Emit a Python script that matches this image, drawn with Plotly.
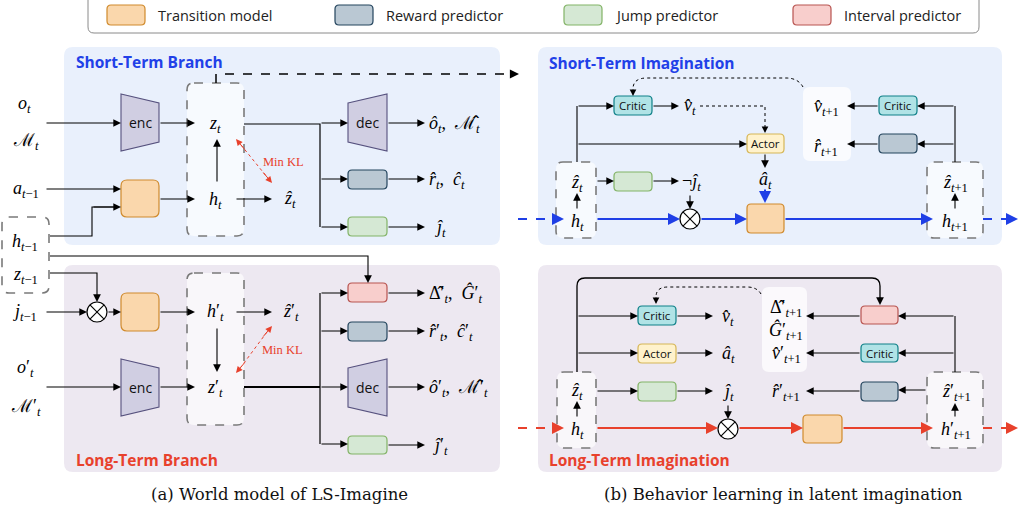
import math
import plotly.graph_objects as go

# ---------------- content (labels / text) ----------------
legend_labels = ["Transition model", "Reward predictor", "Jump predictor", "Interval predictor"]
legend_fills = ["#fad7ac", "#bac8d3", "#d5e8d4", "#f8cecc"]
legend_lines = ["#d08a2c", "#23445d", "#82b366", "#b85450"]

panel_titles = ["Short-Term Branch", "Long-Term Branch", "Short-Term Imagination", "Long-Term Imagination"]
captions = ["(a) World model of LS-Imagine", "(b) Behavior learning in latent imagination"]

left_top_inputs = ["<i>o</i><sub><i>t</i></sub>", "ℳ<sub><i>t</i></sub>", "<i>a</i><sub><i>t</i>−1</sub>"]
prev_state = ["<i>h</i><sub><i>t</i>−1</sub>", "<i>z</i><sub><i>t</i>−1</sub>"]
left_top_state = ["<i>z</i><sub><i>t</i></sub>", "<i>h</i><sub><i>t</i></sub>", "<i>ẑ</i><sub><i>t</i></sub>"]
left_top_outputs = ["<i>ô</i><sub><i>t</i></sub>,  ℳ\u0302<sub><i>t</i></sub>",
                    "<i>r\u0302</i><sub><i>t</i></sub>,  <i>ĉ</i><sub><i>t</i></sub>",
                    "<i>ĵ</i><sub><i>t</i></sub>"]
left_bot_inputs = ["<i>j</i><sub><i>t</i>−1</sub>", "<i>o</i>′<sub><i>t</i></sub>", "ℳ′<sub><i>t</i></sub>"]
left_bot_state = ["<i>h</i>′<sub><i>t</i></sub>", "<i>z</i>′<sub><i>t</i></sub>", "<i>ẑ</i>′<sub><i>t</i></sub>"]
left_bot_outputs = ["Δ\u0302′<sub><i>t</i></sub>,  <i>Ĝ</i>′<sub><i>t</i></sub>",
                    "<i>r\u0302</i>′<sub><i>t</i></sub>,  <i>ĉ</i>′<sub><i>t</i></sub>",
                    "<i>ô</i>′<sub><i>t</i></sub>,  ℳ\u0302′<sub><i>t</i></sub>",
                    "<i>ĵ</i>′<sub><i>t</i></sub>"]
rt_labels = ["<i>v\u0302</i><sub><i>t</i></sub>", "<i>â</i><sub><i>t</i></sub>", "¬<i>ĵ</i><sub><i>t</i></sub>",
             "<i>ẑ</i><sub><i>t</i></sub>", "<i>h</i><sub><i>t</i></sub>",
             "<i>ẑ</i><sub><i>t</i>+1</sub>", "<i>h</i><sub><i>t</i>+1</sub>",
             "<i>v\u0302</i><sub><i>t</i>+1</sub>", "<i>r\u0302</i><sub><i>t</i>+1</sub>"]
rb_labels = ["<i>v\u0302</i><sub><i>t</i></sub>", "<i>â</i><sub><i>t</i></sub>", "<i>ĵ</i><sub><i>t</i></sub>",
             "<i>ẑ</i><sub><i>t</i></sub>", "<i>h</i><sub><i>t</i></sub>",
             "<i>ẑ</i>′<sub><i>t</i>+1</sub>", "<i>h</i>′<sub><i>t</i>+1</sub>",
             "Δ\u0302′<sub><i>t</i>+1</sub>", "<i>Ĝ</i>′<sub><i>t</i>+1</sub>",
             "<i>v\u0302</i>′<sub><i>t</i>+1</sub>", "<i>r\u0302</i>′<sub><i>t</i>+1</sub>"]
module_names = ["enc", "dec", "Critic", "Actor", "Min KL"]

# ---------------- styles ----------------
BLUE_BG = "#e9f0fc"
PURP_BG = "#ede8f1"
BLUE = "#1f3fe6"
RED = "#e8412c"
TITLE_BLUE = "#2140e8"
TITLE_RED = "#e8412c"
MATH_FONT = "Liberation Serif"
CAP_FONT = "DejaVu Serif"
SANS = "Open Sans"
MS = 18
CRITIC = ("#b0e3e6", "#0e8088")
ACTOR = ("#fff2cc", "#d6b656")
ENC = ("#d0cee2", "#56517e")
ORANGE = (legend_fills[0], legend_lines[0])
REWARD = (legend_fills[1], legend_lines[1])
JUMP = (legend_fills[2], legend_lines[2])
INTERVAL = (legend_fills[3], legend_lines[3])

shapes = []
anns = []


def rrect(x0, y0, x1, y1, r, fill, line=None, lw=1.0, dash=None):
    p = (f"M{x0+r},{y0} L{x1-r},{y0} Q{x1},{y0} {x1},{y0+r} L{x1},{y1-r} Q{x1},{y1} {x1-r},{y1} "
         f"L{x0+r},{y1} Q{x0},{y1} {x0},{y1-r} L{x0},{y0+r} Q{x0},{y0} {x0+r},{y0} Z")
    ln = dict(color=line, width=lw) if line else dict(width=0)
    if dash and line:
        ln["dash"] = dash
    shapes.append(dict(type="path", path=p, fillcolor=fill, line=ln, xref="x", yref="y"))


def path(p, color="black", lw=1.1, dash=None):
    ln = dict(color=color, width=lw)
    if dash:
        ln["dash"] = dash
    shapes.append(dict(type="path", path=p, line=ln, xref="x", yref="y"))


def head(x0, y0, x1, y1, color="black", w=1.1, size=1.4):
    anns.append(dict(x=x1, y=y1, ax=x0, ay=y0, xref="x", yref="y", axref="x", ayref="y",
                     showarrow=True, arrowhead=2, arrowsize=size, arrowwidth=w,
                     arrowcolor=color, text=""))


def arrow(x0, y0, x1, y1, color="black", w=1.1, dash=None, size=1.4):
    if dash:
        L = math.hypot(x1 - x0, y1 - y0)
        ux, uy = (x1 - x0) / L, (y1 - y0) / L
        path(f"M{x0},{y0} L{x1-ux*5},{y1-uy*5}", color, w, dash)
        head(x1 - ux * 6, y1 - uy * 6, x1, y1, color, w, size)
    else:
        head(x0, y0, x1, y1, color, w, size)


def text(x, y, s, size=MS, color="black", font=MATH_FONT, xanchor="center"):
    anns.append(dict(x=x, y=y, text=s, showarrow=False, xref="x", yref="y", xanchor=xanchor,
                     yanchor="middle", borderpad=0, font=dict(family=font, size=size, color=color)))


def box(x0, y0, x1, y1, style, label=None, r=4, fs=11):
    rrect(x0, y0, x1, y1, r, style[0], style[1], 1.2)
    if label:
        text((x0 + x1) / 2, (y0 + y1) / 2, label, fs, "#111", SANS)


def trap(x0, x1, yl0, yl1, yr0, yr1, label):
    p = f"M{x0},{yl0} L{x1},{yr0} L{x1},{yr1} L{x0},{yl1} Z"
    shapes.append(dict(type="path", path=p, fillcolor=ENC[0], line=dict(color=ENC[1], width=1.1)))
    text((x0 + x1) / 2, (yl0 + yl1) / 2, label, 14, "#111", SANS)


def otimes(cx, cy, r=10):
    shapes.append(dict(type="circle", x0=cx - r, x1=cx + r, y0=cy - r, y1=cy + r,
                       fillcolor="white", line=dict(color="black", width=1.2)))
    d = r * 0.707
    path(f"M{cx-d},{cy-d} L{cx+d},{cy+d}", lw=1.1)
    path(f"M{cx-d},{cy+d} L{cx+d},{cy-d}", lw=1.1)


def dashed_box(x0, y0, x1, y1):
    rrect(x0, y0, x1, y1, 7, "rgba(255,255,255,0.65)", "#7a7a7a", 1.6, "dash")


# ---------------- legend ----------------
rrect(88, -12, 979, 33, 6, "white", "#8a8a8a", 1.0)
leg_x = [107, 335, 564, 793]
for i, lab in enumerate(legend_labels):
    rrect(leg_x[i], 5, leg_x[i] + 38, 25, 4, legend_fills[i], legend_lines[i], 1.2)
    text(leg_x[i] + 50, 15, lab, 14.5, "#222", SANS, "left")

# ---------------- panels ----------------
rrect(64, 47, 500, 245, 9, BLUE_BG)
rrect(64, 265, 500, 472, 9, PURP_BG)
rrect(538, 47, 1002, 245, 9, BLUE_BG)
rrect(538, 265, 1002, 472, 9, PURP_BG)
text(75, 62, f"<b>{panel_titles[0]}</b>", 15.5, TITLE_BLUE, SANS, "left")
text(75, 460, f"<b>{panel_titles[1]}</b>", 15.5, TITLE_RED, SANS, "left")
text(548, 63, f"<b>{panel_titles[2]}</b>", 15.5, TITLE_BLUE, SANS, "left")
text(548, 460, f"<b>{panel_titles[3]}</b>", 15.5, TITLE_RED, SANS, "left")

# ================= (a) short-term branch =================
dashed_box(187, 83, 244, 236)
dashed_box(2, 217, 49, 293)
path("M216,83 L216,74 L510,74", "black", 1.5, "dash")
head(510, 74, 519, 74, size=1.3, w=1.4)

text(24, 104, left_top_inputs[0])
text(26, 141, left_top_inputs[1])
text(26, 189, left_top_inputs[2])
text(25, 242, prev_state[0])
text(25, 275, prev_state[1])

arrow(45, 123, 121, 123)
trap(121, 159, 94, 151, 103, 142, module_names[0])
arrow(159, 123, 195, 123)
text(215, 124, left_top_state[0])
text(215, 200, left_top_state[1])
arrow(217, 183, 217, 139)
arrow(235, 199, 272, 199)
text(290, 199, left_top_state[2])
arrow(45, 189, 121, 189)
box(121, 180, 159, 217, ORANGE, r=6)
path("M50,236 L92,236 L92,207 L115,207")
arrow(92, 207, 121, 207)
arrow(159, 199, 195, 199)
# Min KL
path("M241,145 L267,177", RED, 1.0, "dot")
head(246, 151, 236, 139, RED, 1.0, 1.3)
head(262, 171, 272, 183, RED, 1.0, 1.3)
text(283, 162, module_names[4], 12.5, RED, MATH_FONT)

path("M244,124 L320,124 L320,227", "black", 1.2)
arrow(320, 123, 348, 123)
trap(348, 387, 103, 142, 94, 151, module_names[1])
arrow(387, 123, 425, 123)
text(428, 124, left_top_outputs[0], MS, xanchor="left")
arrow(320, 179, 348, 179)
box(348, 170, 387, 189, REWARD)
arrow(387, 179, 425, 179)
text(428, 180, left_top_outputs[1], MS, xanchor="left")
arrow(320, 227, 348, 227)
box(348, 217, 387, 236, JUMP)
arrow(387, 227, 425, 227)
text(440, 228, left_top_outputs[2], MS)

# ================= (a) long-term branch =================
path("M50,256 L368,256 L368,276")
head(368, 274, 368, 283)
dashed_box(187, 273, 244, 425)
path("M50,273 L97,273 L97,296")
head(97, 294, 97, 302)
text(25, 312, left_bot_inputs[0])
arrow(45, 312, 87, 312)
otimes(97, 312)
arrow(107, 312, 121, 312)
box(121, 293, 159, 331, ORANGE, r=6)
arrow(159, 312, 195, 312)
text(215, 312, left_bot_state[0])
arrow(217, 327, 217, 372)
text(215, 388, left_bot_state[1])
arrow(235, 312, 272, 312)
text(291, 312, left_bot_state[2])
path("M267,332 L241,367", RED, 1.0, "dot")
head(262, 338, 272, 326, RED, 1.0, 1.3)
head(246, 361, 236, 373, RED, 1.0, 1.3)
text(282, 350, module_names[4], 12.5, RED, MATH_FONT)

text(25, 368, left_bot_inputs[1])
text(26, 407, left_bot_inputs[2])
arrow(45, 387, 121, 387)
trap(121, 159, 359, 416, 368, 407, module_names[0])
arrow(159, 387, 195, 387)

path("M244,387 L320,387", "black", 2.0)
path("M320,293 L320,444", "black", 1.2)
arrow(320, 293, 348, 293)
box(348, 283, 387, 302, INTERVAL)
arrow(387, 293, 425, 293)
text(428, 294, left_bot_outputs[0], MS, xanchor="left")
arrow(320, 331, 348, 331)
box(348, 322, 387, 341, REWARD)
arrow(387, 331, 425, 331)
text(428, 332, left_bot_outputs[1], MS, xanchor="left")
arrow(320, 387, 348, 387)
trap(348, 387, 368, 407, 359, 416, module_names[1])
arrow(387, 387, 425, 387)
text(428, 388, left_bot_outputs[2], MS, xanchor="left")
arrow(320, 444, 348, 444)
box(348, 436, 387, 454, JUMP)
arrow(387, 445, 425, 445)
text(440, 446, left_bot_outputs[3], MS)

# ================= (b) short-term imagination =================
rrect(803, 87, 851, 161, 7, "rgba(255,255,255,0.75)")
dashed_box(556, 162, 596, 238)
dashed_box(927, 162, 983, 238)
path("M577,162 L577,106")
arrow(577, 106, 614, 106)
arrow(577, 144, 747, 144)
box(614, 96, 652, 115, CRITIC, module_names[2], fs=11.5)
arrow(652, 106, 679, 106)
text(690, 106, rt_labels[0])
path("M700,106 L765,106 L765,128", "black", 1.0, "dot")
head(765, 126, 765, 133, size=1.2)
box(747, 134, 784, 153, ACTOR, module_names[3], fs=11.5)
arrow(765, 153, 765, 168)
text(765, 180, rt_labels[1])
arrow(765, 188, 765, 203, BLUE, 2.0, size=1.2)
box(747, 204, 784, 233, ORANGE, r=4)
text(577, 183, rt_labels[3])
text(577, 222, rt_labels[4])
arrow(577, 210, 577, 193)
arrow(596, 181, 614, 181)
box(614, 172, 652, 191, JUMP)
arrow(652, 181, 679, 181)
text(691, 182, rt_labels[2])
arrow(690, 194, 690, 209)
otimes(690, 219)
arrow(518, 219, 564, 219, BLUE, 2.0, "dash", 1.2)
arrow(596, 219, 680, 219, BLUE, 2.0, size=1.2)
arrow(700, 219, 747, 219, BLUE, 2.0, size=1.2)
arrow(784, 219, 933, 219, BLUE, 2.0, size=1.2)
arrow(983, 219, 1018, 219, BLUE, 2.0, "dash", 1.2)
text(955, 183, rt_labels[5])
text(955, 222, rt_labels[6])
arrow(955, 210, 955, 193)
path("M955,162 L955,106")
arrow(955, 106, 917, 106)
arrow(955, 144, 917, 144)
box(879, 96, 917, 115, CRITIC, module_names[2], fs=11.5)
box(879, 134, 917, 153, REWARD)
arrow(879, 106, 847, 106)
arrow(879, 144, 847, 144)
text(826, 107, rt_labels[7])
text(826, 147, rt_labels[8])
path("M803,87 Q798,78 786,78 L647,78 Q633,78 633,89", "black", 1.0, "dot")
head(633, 88, 633, 96, size=1.2)

# ================= (b) long-term imagination =================
rrect(762, 287, 807, 372, 7, "rgba(255,255,255,0.75)")
dashed_box(557, 372, 596, 448)
dashed_box(927, 372, 983, 448)
path("M577,372 L577,286 Q577,278 585,278 L872,278 Q880,278 880,286 L880,298", "black", 1.3)
head(880, 296, 880, 305)
arrow(577, 316, 638, 316)
arrow(577, 353, 638, 353)
box(638, 306, 676, 325, CRITIC, module_names[2], fs=11.5)
box(638, 344, 676, 363, ACTOR, module_names[3], fs=11.5)
arrow(676, 316, 713, 316)
arrow(676, 353, 713, 353)
text(728, 317, rb_labels[0])
text(728, 354, rb_labels[1])
text(577, 391, rb_labels[3])
text(577, 430, rb_labels[4])
arrow(577, 418, 577, 401)
arrow(596, 391, 638, 391)
box(638, 382, 676, 401, JUMP)
arrow(676, 391, 713, 391)
text(728, 392, rb_labels[2])
arrow(728, 404, 728, 419)
otimes(728, 429)
arrow(518, 428, 564, 428, RED, 2.0, "dash", 1.2)
arrow(596, 428, 718, 428, RED, 2.0, size=1.2)
arrow(738, 428, 803, 428, RED, 2.0, size=1.2)
box(803, 415, 842, 443, ORANGE, r=4)
arrow(842, 428, 933, 428, RED, 2.0, size=1.2)
arrow(983, 428, 1018, 428, RED, 2.0, "dash", 1.2)
text(956, 392, rb_labels[5])
text(956, 430, rb_labels[6])
arrow(955, 418, 955, 403)
path("M955,372 L955,316")
arrow(955, 316, 898, 316)
arrow(955, 353, 898, 353)
arrow(927, 390, 898, 390)
box(861, 306, 898, 324, INTERVAL)
box(861, 344, 898, 362, CRITIC, module_names[2], fs=11.5)
box(861, 382, 898, 401, REWARD)
arrow(861, 316, 806, 316)
arrow(861, 353, 806, 353)
arrow(861, 391, 806, 391)
text(786, 308, rb_labels[7])
text(786, 331, rb_labels[8])
text(786, 354, rb_labels[9])
text(786, 392, rb_labels[10])
path("M761,294 Q757,287 747,287 L668,287 Q656,287 656,297", "black", 1.0, "dot")
head(656, 296, 656, 304, size=1.2)

# ---------------- captions ----------------
text(279, 494, captions[0], 16.5, "#111", CAP_FONT)
text(783, 494, captions[1], 16.5, "#111", CAP_FONT)

fig = go.Figure()
fig.update_layout(
    width=1019, height=514,
    margin=dict(l=0, r=0, t=0, b=0, autoexpand=False),
    paper_bgcolor="white", plot_bgcolor="white",
    xaxis=dict(range=[0, 1019], visible=False, fixedrange=True),
    yaxis=dict(range=[514, 0], visible=False, fixedrange=True),
    shapes=shapes, annotations=anns, showlegend=False,
)
fig.write_html("out.html", config={"displayModeBar": False},
               post_script="document.body.style.margin='0';document.body.style.padding='0';document.body.style.overflow='hidden';")
